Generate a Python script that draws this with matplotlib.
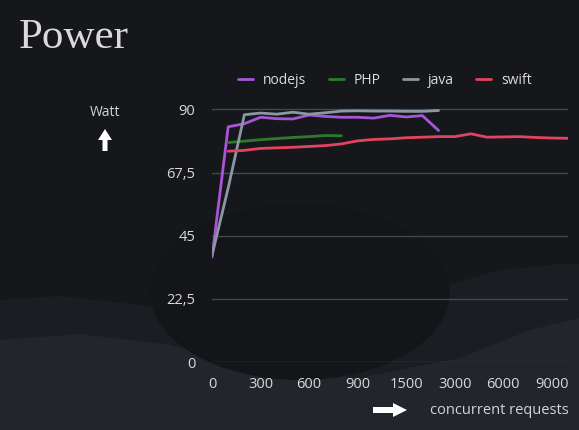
import numpy as np
import matplotlib
matplotlib.use("Agg")
import matplotlib.pyplot as plt
from matplotlib.patches import Ellipse, Polygon, FancyArrow

# ------------------------------------------
# data
# ------------------------------------------
requests = [0, 100, 200, 300, 400, 500, 600, 700, 800, 900, 1000, 1200,
            1500, 2000, 2500, 3000, 4000, 5000, 6000, 7000, 8000, 9000, 10000]
tick_labels = ["0", "300", "600", "900", "1500", "3000", "6000", "9000"]
y_ticks = [0, 22.5, 45, 67.5, 90]
y_tick_labels = ["0", "22,5", "45", "67,5", "90"]

nodejs = [37.3, 83.8, 84.9, 87.2, 86.7, 86.6, 88.0, 87.5, 87.2, 87.2, 86.9,
          87.9, 87.3, 87.8, 82.5]
php = [np.nan, 78.2, 78.7, 79.2, 79.6, 80.0, 80.3, 80.7, 80.6]
java = [38.0, 62.0, 88.1, 88.7, 88.3, 89.0, 88.3, 88.8, 89.4, 89.5, 89.4,
        89.4, 89.3, 89.3, 89.6]
swift = [np.nan, 75.1, 75.4, 76.1, 76.3, 76.5, 76.8, 77.1, 77.7, 78.8, 79.3,
         79.5, 79.9, 80.1, 80.3, 80.3, 81.3, 80.1, 80.2, 80.3, 80.0, 79.8, 79.7]

series = [("nodejs", nodejs, "#a855d8"),
          ("PHP", php, "#2d7a2d"),
          ("java", java, "#8b97a4"),
          ("swift", swift, "#e2435e")]

W, H = 579, 430
fig = plt.figure(figsize=(W / 100, H / 100), dpi=100, facecolor="#16171b")

# ------------------------------------------
# background decoration (figure pixels)
# ------------------------------------------
bg = fig.add_axes([0, 0, 1, 1], zorder=-1)
bg.set_xlim(0, W)
bg.set_ylim(H, 0)
bg.axis("off")
bg.set_facecolor("#16171b")
bg.add_patch(Polygon([(0, 300), (60, 296), (140, 305), (230, 322), (330, 318),
                      (430, 290), (500, 270), (560, 264), (579, 264), (579, 430), (0, 430)],
                     closed=True, color="#1b1d22", lw=0))
bg.add_patch(Polygon([(0, 340), (80, 334), (170, 345), (260, 368), (360, 378),
                      (460, 358), (530, 330), (579, 318), (579, 430), (0, 430)],
                     closed=True, color="#22252c", lw=0))
bg.add_patch(Ellipse((300, 292), 300, 176, color="#141519", lw=0))

# ------------------------------------------
# main axes
# ------------------------------------------
ax = fig.add_axes([212 / W, 1 - 362 / H, 356 / W, 254 / H])
ax.set_facecolor("none")
x = np.arange(len(requests))
for name, vals, col in series:
    ax.plot(x[:len(vals)], vals, color=col, lw=2.0, label=name,
            solid_joinstyle="round", solid_capstyle="round")

ax.set_xlim(0, len(requests) - 1)
ax.set_ylim(0, 90.5)
ax.set_yticks(y_ticks)
ax.set_yticklabels(y_tick_labels)
ax.set_xticks(x[::3])
ax.set_xticklabels(tick_labels)
ax.grid(axis="y", color="#45474d", lw=1.0)
ax.set_axisbelow(True)
for s in ax.spines.values():
    s.set_visible(False)
ax.tick_params(axis="both", length=0, colors="#d8d8d8", labelsize=10.5,
               labelfontfamily="Open Sans")
ax.tick_params(axis="y", pad=12)
ax.tick_params(axis="x", pad=11)

fig.legend(loc="center", bbox_to_anchor=(385 / W, 1 - 80 / H), ncol=4,
           frameon=False, handlelength=1.1, handletextpad=0.7,
           columnspacing=1.6, labelcolor="#dcdcdc",
           prop={"family": "Open Sans", "size": 10})

# ------------------------------------------
# titles, axis labels, arrows
# ------------------------------------------
fig.text(19 / W, 1 - 38 / H, "Power", family="Liberation Serif", fontsize=31,
         color="#dadada", va="center", ha="left")
fig.text(105 / W, 1 - 112 / H, "Watt", family="Open Sans", fontsize=10,
         color="#d4d4d4", ha="center", va="center")
fig.text(569 / W, 1 - 410 / H, "concurrent requests", family="Open Sans",
         fontsize=10.5, color="#d4d4d4", ha="right", va="center")
bg.add_patch(FancyArrow(105, 151, 0, -22, width=5, head_width=14, head_length=11,
                        length_includes_head=True, color="white", lw=0))
bg.add_patch(FancyArrow(373, 410, 34, 0, width=6, head_width=14, head_length=14,
                        length_includes_head=True, color="white", lw=0))

plt.savefig("out.png", dpi=100, facecolor=fig.get_facecolor())
